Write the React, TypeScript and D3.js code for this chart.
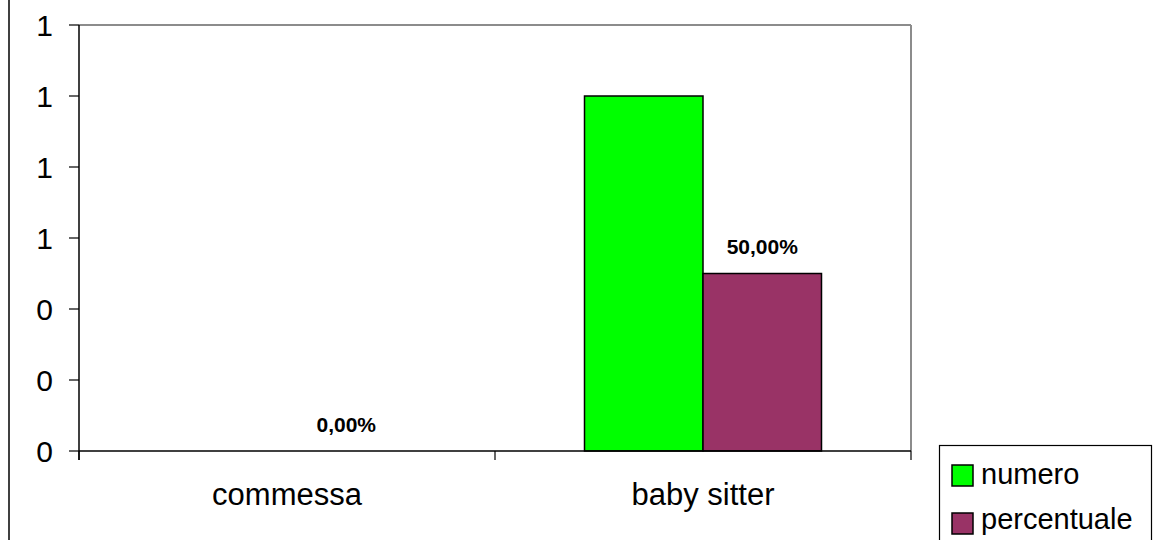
import React from "react";
import * as d3 from "d3";

const categories = ["commessa", "baby sitter"];
const seriesNames = ["numero", "percentuale"];
const numero = [0, 1];
const percentuale = [0, 0.5];
const yTicks = [0, 0.2, 0.4, 0.6, 0.8, 1.0, 1.2];
const colors = ["#00FF00", "#993366"];

export default function App() {
  const W = 1153, H = 540;
  const left = 79, right = 911, top = 25, bottom = 451;
  const x = d3.scaleBand().domain(categories).range([left, right]);
  const y = d3.scaleLinear().domain([0, 1.2]).range([bottom, top]);
  const fmt = d3.format(".0f");
  const barW = 118.5;
  const series = [numero, percentuale];
  const font = "Arial, 'Liberation Sans', sans-serif";
  const pct = (v: number) => d3.format(".2f")(v * 100).replace(".", ",") + "%";

  return (
    <svg width={W} height={H} style={{ position: "absolute", left: 0, top: 0 }} fontFamily={font}>
      <rect x={0} y={0} width={W} height={H} fill="#fff" />
      <line x1={9} x2={9} y1={0} y2={H} stroke="#000" strokeWidth={1.5} />
      {/* plot border */}
      <line x1={left} x2={right} y1={top} y2={top} stroke="#8c8c8c" strokeWidth={2} />
      <line x1={right} x2={right} y1={top} y2={bottom} stroke="#8c8c8c" strokeWidth={2} />
      {/* bars */}
      {categories.map((c, i) => {
        const cx = (x(c) as number) + x.bandwidth() / 2;
        return series.map((s, j) => {
          const v = s[i];
          const bx = cx - barW + j * barW;
          const h = bottom - y(v);
          return (
            <g key={c + j}>
              {v > 0 && (
                <rect x={bx} y={y(v)} width={barW} height={h} fill={colors[j]} stroke="#000" strokeWidth={1.5} />
              )}
            </g>
          );
        });
      })}
      {/* data labels for percentuale */}
      {categories.map((c, i) => {
        const cx = (x(c) as number) + x.bandwidth() / 2 + barW / 2;
        return (
          <text key={"l" + c} x={cx} y={y(percentuale[i]) - 19.5} textAnchor="middle" fontWeight="bold" fontSize={21}>
            {pct(percentuale[i])}
          </text>
        );
      })}
      {/* y axis */}
      <line x1={left} x2={left} y1={top} y2={bottom + 9} stroke="#000" strokeWidth={1.5} />
      {yTicks.map((t) => (
        <g key={t}>
          <line x1={left - 10} x2={left} y1={y(t)} y2={y(t)} stroke="#000" strokeWidth={1.2} />
          <text x={53} y={y(t) + 11} textAnchor="end" fontSize={30}>
            {fmt(t)}
          </text>
        </g>
      ))}
      {/* x axis */}
      <line x1={left} x2={right} y1={bottom} y2={bottom} stroke="#000" strokeWidth={1.5} />
      {[...categories.map((c) => x(c) as number), right].map((p, i) => (
        <line key={"xt" + i} x1={p} x2={p} y1={bottom} y2={bottom + 9} stroke="#000" strokeWidth={1.2} />
      ))}
      {categories.map((c) => (
        <text key={"c" + c} x={(x(c) as number) + x.bandwidth() / 2} y={505} textAnchor="middle" fontSize={31}>
          {c}
        </text>
      ))}
      {/* legend */}
      <rect x={939.5} y={445.5} width={212} height={110} fill="#fff" stroke="#000" strokeWidth={1.2} />
      {seriesNames.map((n, i) => (
        <g key={n}>
          <rect x={952} y={465 + i * 48} width={21} height={21} fill={colors[i]} stroke="#000" strokeWidth={1.5} />
          <text x={981} y={484 + i * 45} fontSize={29}>
            {n}
          </text>
        </g>
      ))}
    </svg>
  );
}
